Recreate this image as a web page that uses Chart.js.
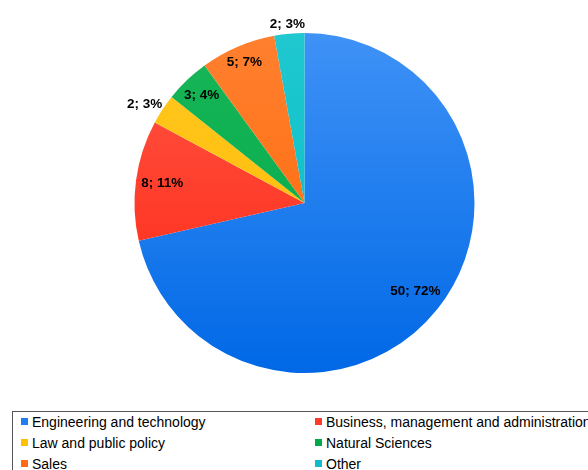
<!DOCTYPE html>
<html>
<head>
<meta charset="utf-8">
<script src="https://cdn.jsdelivr.net/npm/chart.js@4/dist/chart.umd.min.js"></script>
<style>
  html, body { margin:0; padding:0; background:#fff; width:588px; height:470px; overflow:hidden; }
  #wrap { position:absolute; left:0; top:0; width:588px; height:410px; }
  #legend { position:absolute; left:12px; top:411px; width:640px; height:70px; border:1px solid #555; box-sizing:border-box;
            font-family:"Liberation Sans", Arial, sans-serif; font-size:14px; color:#000; }
  .item { position:absolute; white-space:nowrap; line-height:16px; height:16px; }
  .mk { position:absolute; left:0; top:4px; width:7px; height:7px; }
  .tx { position:absolute; left:11px; top:0; }
</style>
</head>
<body>
<div id="wrap"><canvas id="c" width="588" height="410"></canvas></div>
<div id="legend"></div>
<script>
const categories = ["Engineering and technology", "Business, management and administration", "Law and public policy", "Natural Sciences", "Sales", "Other"];
const values = [50, 8, 2, 3, 5, 2];
const percents = [72, 11, 3, 4, 7, 3];

const colorsTop = ["#3f92f6", "#ff5646", "#ffc820", "#18b658", "#ff8030", "#20c8d0"];
const colorsBottom = ["#0068e6", "#ff2410", "#ffb800", "#00a848", "#ff6400", "#00bcc4"];
const legendColors = ["#1f7ff0", "#ff3a2c", "#ffc000", "#00a84a", "#ff6a14", "#10bccb"];

const labelPlugin = {
  id: 'sliceLabels',
  afterDatasetsDraw(chart) {
    const ctx = chart.ctx;
    const meta = chart.getDatasetMeta(0);
    ctx.save();
    ctx.font = 'bold 13.5px "Liberation Sans", Arial, sans-serif';
    ctx.fillStyle = '#000';
    ctx.textAlign = 'center';
    ctx.textBaseline = 'middle';
    meta.data.forEach((arc, i) => {
      const p = arc.getProps(['x', 'y', 'startAngle', 'endAngle', 'outerRadius'], true);
      const mid = (p.startAngle + p.endAngle) / 2;
      const dx = Math.cos(mid), dy = Math.sin(mid);
      const text = values[i] + '; ' + percents[i] + '%';
      const w = ctx.measureText(text).width, h = 11;
      const span = p.endAngle - p.startAngle;
      let cx, cy;
      if (span < 12 * Math.PI / 180) {
        const r = p.outerRadius + 4;
        cx = p.x + dx * r + dx * w / 2;
        cy = p.y + dy * r + dy * h / 2;
      } else {
        const ext = Math.abs(dx) * w / 2 + Math.abs(dy) * h / 2;
        const r = p.outerRadius - 5 - ext;
        cx = p.x + dx * r;
        cy = p.y + dy * r;
      }
      ctx.fillText(text, cx, cy);
    });
    ctx.restore();
  }
};

new Chart(document.getElementById('c'), {
  type: 'pie',
  data: {
    labels: categories,
    datasets: [{
      data: values,
      borderWidth: 0,
      hoverOffset: 0,
      backgroundColor: (c) => {
        const i = c.dataIndex;
        const a = c.chart.chartArea;
        if (!a) return colorsBottom[i];
        const g = c.chart.ctx.createLinearGradient(0, a.top, 0, a.bottom);
        g.addColorStop(0, colorsTop[i]);
        g.addColorStop(1, colorsBottom[i]);
        return g;
      }
    }]
  },
  options: {
    responsive: false,
    animation: false,
    layout: { padding: { left: 21, right: 0, top: 33, bottom: 37 } },
    plugins: { legend: { display: false }, tooltip: { enabled: false } },
    events: []
  },
  plugins: [labelPlugin]
});

const legend = document.getElementById('legend');
categories.forEach((name, i) => {
  const col = i % 2, row = Math.floor(i / 2);
  const d = document.createElement('div');
  d.className = 'item';
  d.style.left = (col === 0 ? 8 : 302) + 'px';
  d.style.top = (2 + row * 21) + 'px';
  d.innerHTML = '<span class="mk" style="background:' + legendColors[i] + '"></span><span class="tx"></span>';
  d.querySelector('.tx').textContent = name;
  legend.appendChild(d);
});
</script>
</body>
</html>
